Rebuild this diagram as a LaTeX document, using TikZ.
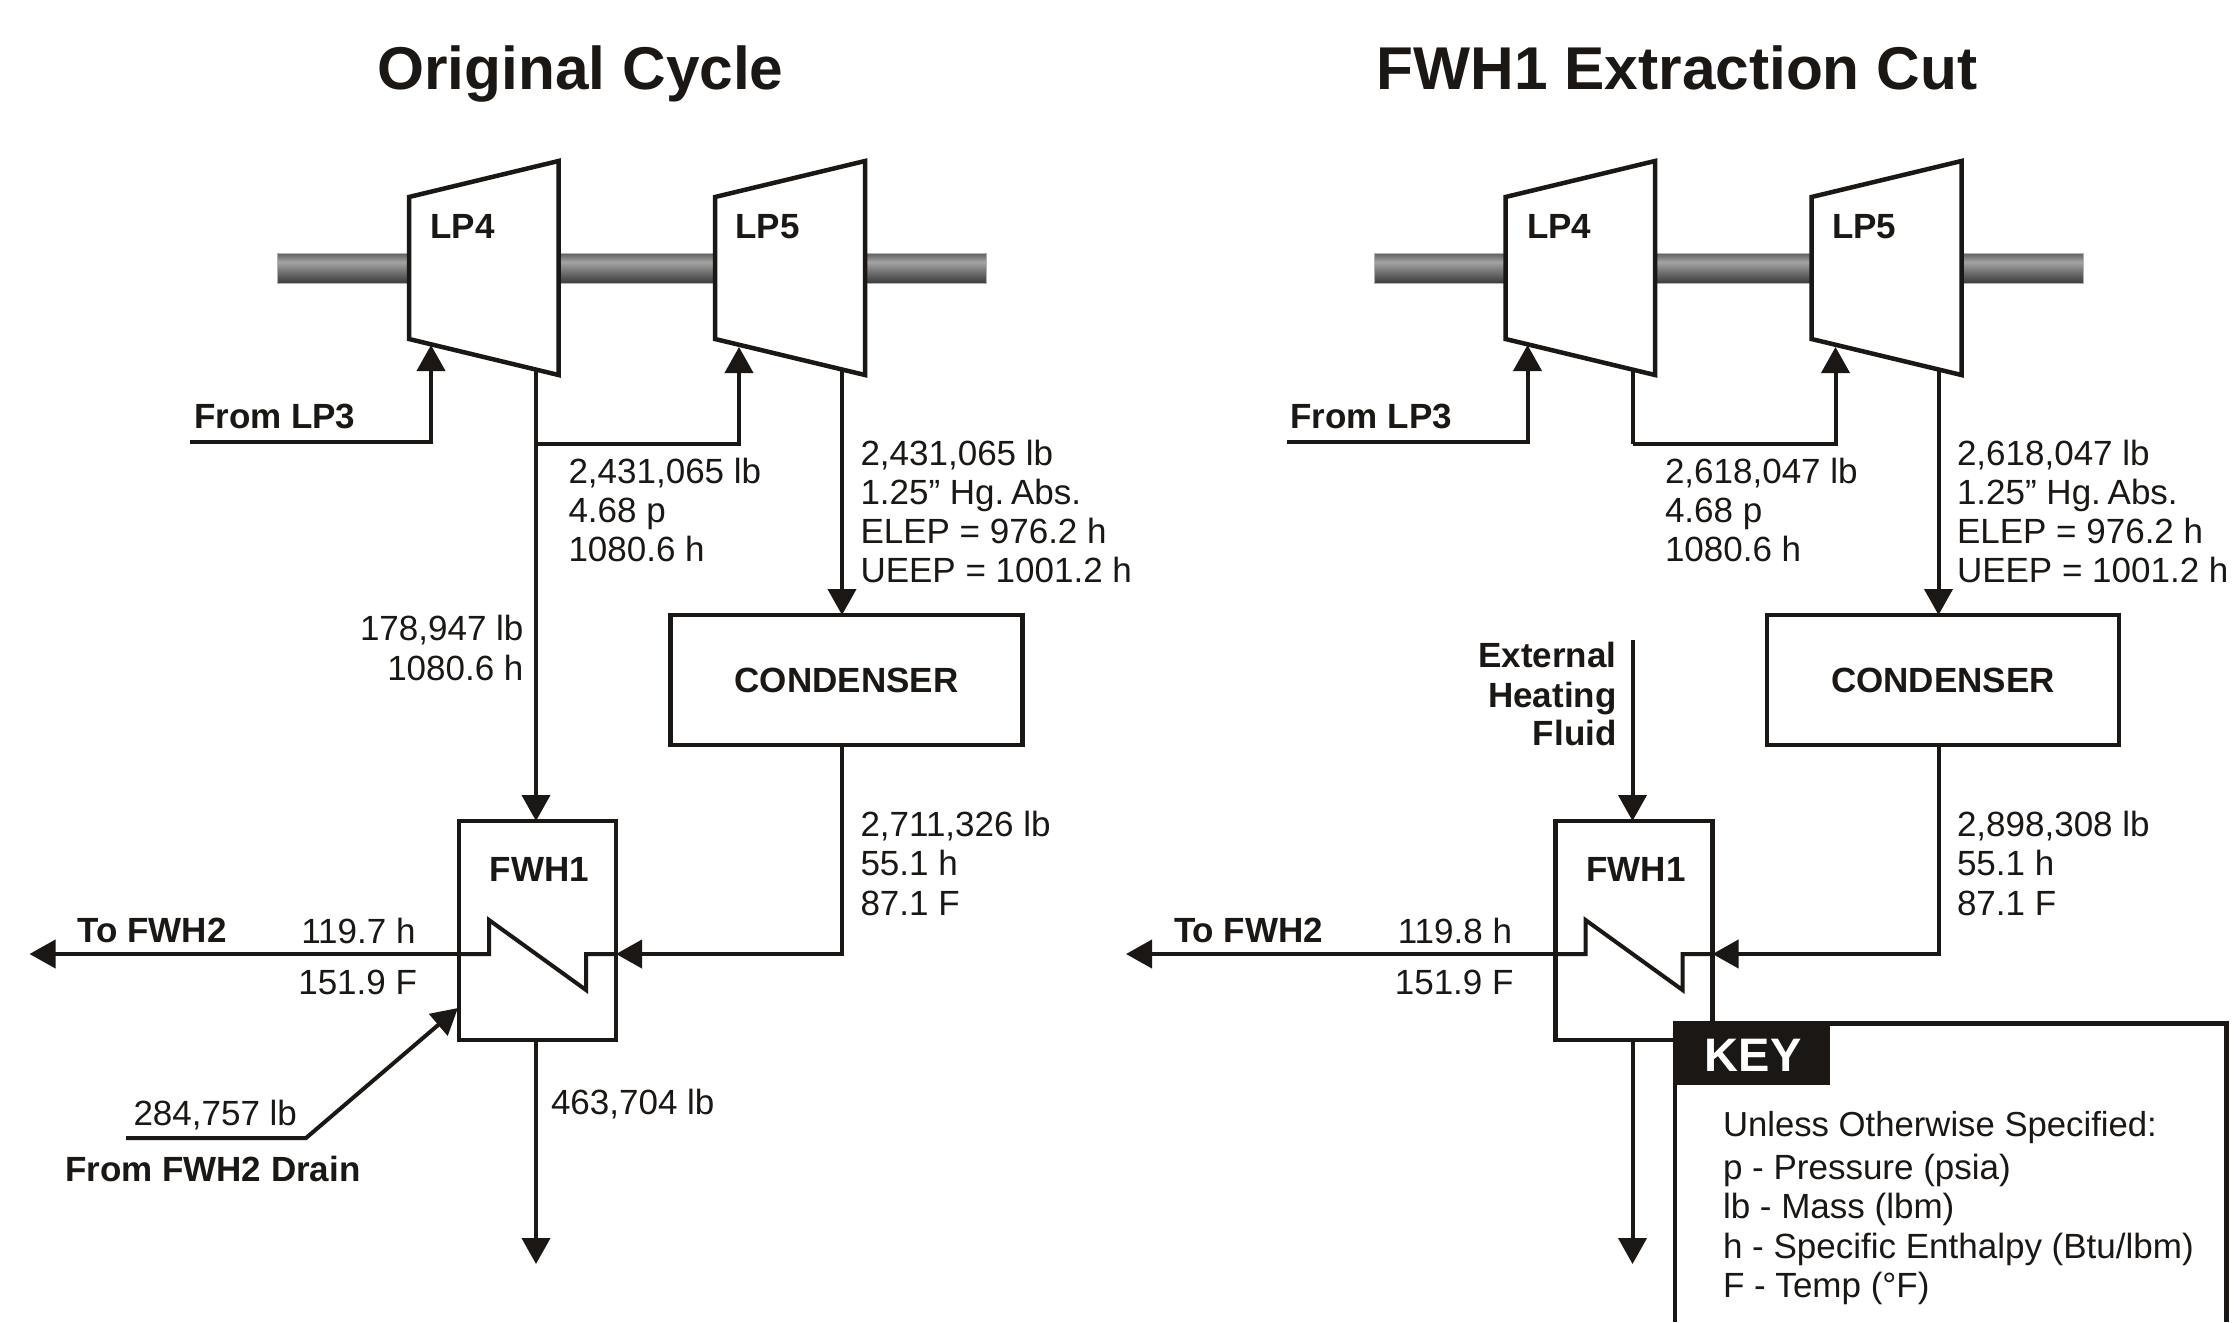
\documentclass[tikz,border=0pt]{standalone}
\usepackage{fontspec}
\setmainfont{Liberation Sans}
\usetikzlibrary{arrows.meta}
\definecolor{ink}{HTML}{1A1714}
\pgfdeclareverticalshading{shaftshade}{100bp}{
  color(0bp)=(black!76);
  color(25bp)=(black!76);
  color(31bp)=(black!70);
  color(60bp)=(black!36);
  color(71bp)=(black!56);
  color(75bp)=(black!60);
  color(100bp)=(black!60)}
\tikzset{
  x=1pt,y=-1pt,
  pipe/.style={draw=ink,line width=4pt,line join=miter},
  flow/.style={pipe,-{Triangle[length=26pt,width=28pt]}},
  shell/.style={draw=ink,line width=4.5pt,fill=white,line join=miter},
  boxnode/.style={shell,rectangle,inner sep=0pt,outer sep=0pt},
  val/.style={inner sep=0pt,outer sep=0pt,anchor=base west,text=ink,font=\fontsize{35}{40}\selectfont},
  valr/.style={val,anchor=base east},
  tag/.style={val,font=\fontsize{35}{40}\selectfont\bfseries},
  tagr/.style={tag,anchor=base east},
  headline/.style={inner sep=0pt,outer sep=0pt,anchor=base,text=ink,font=\fontsize{60.4}{66}\selectfont\bfseries},
}
\newcommand{\cyclegeom}{%
  \shade[shading=shaftshade,draw=black!30,line width=0.6pt] (277.5,253) rectangle (986.5,283);
  \draw[shell] (409,197) -- (558.5,161) -- (558.5,375) -- (409,339) -- cycle;
  \draw[shell] (715,197) -- (865,161) -- (865,375) -- (715,339) -- cycle;
  \node[tag] (lpfour) at (430.5,238) {LP4};
  \node[tag] (lpfive) at (735.5,238) {LP5};
  \coordinate (lp3start) at (190,441.5);
  \coordinate (lp4in) at (431,345);
  \coordinate (lp4out) at (536,368);
  \coordinate (lp5in) at (739,347);
  \coordinate (lp5out) at (842,368);
  \coordinate (junction) at (536,444);
  \draw[flow] (lp3start) -| (lp4in);
  \draw[flow] (junction) -| (lp5in);
  \node[boxnode,minimum width=352pt,minimum height=130pt,font=\fontsize{35}{40}\selectfont\bfseries,text=ink] (cond) at (846.5,680) {CONDENSER};
  \draw[flow] (lp5out) -- (lp5out |- cond.north);
  \node[boxnode,minimum width=157pt,minimum height=219pt] (fwh) at (537.5,930.5) {};
  \node[tag,anchor=base] (fwhname) at (539.5,881) {FWH1};
  \coordinate (tofwh) at (29.5,954);
  \coordinate (zigA) at (489,954);
  \coordinate (zigB) at (489,920);
  \coordinate (zigC) at (586,990);
  \coordinate (zigD) at (586,954);
  \coordinate (condturn) at (842,954);
  \draw[flow] (zigA) -- (tofwh);
  \draw[pipe,line join=miter] (fwh.west |- zigA) -- (zigA) -- (zigB) -- (zigC) -- (zigD) -- (fwh.east |- zigD);
  \draw[flow] (lp5out |- cond.south) -- (condturn) -- (fwh.east |- condturn);
  \coordinate (draindown) at (536,1264);
  \draw[flow] (fwh.south -| draindown) -- (draindown);
  \node[tag] (tofwhname) at (77.5,942) {To FWH2};
  \node[tag] (fromlp) at (194,428) {From LP3};
  \node[valr] (tempval) at (417,994) {151.9 F};
}
\begin{document}
\begin{tikzpicture}
\useasboundingbox (0,0) rectangle (2234,1322);
\fill[white] (0,0) rectangle (2234,1322);

\node[headline] (titleL) at (580.5,89) {Original Cycle};
\node[headline] (titleR) at (1677,89) {FWH1 Extraction Cut};

% ---------- Original cycle ----------
\begin{scope}[name prefix=o]
  \cyclegeom
  \coordinate (dm) at (306,1138);
  \coordinate (ds) at (126,1138);
  \coordinate (dt) at (458,1008);
  \draw[flow] (ds) -- (dm) -- (dt);
  \draw[flow] (lp4out) -- (lp4out |- fwh.north);
  \node[val] (a1) at (568.5,483) {2,431,065 lb};
  \node[val] (a2) at (568.5,522) {4.68 p};
  \node[val] (a3) at (568.5,561) {1080.6 h};
  \node[val] (b1) at (860.5,465) {2,431,065 lb};
  \node[val] (b2) at (860.5,504) {1.25” Hg.\hskip-3pt\ Abs.};
  \node[val] (b3) at (860.5,543) {ELEP = 976.2 h};
  \node[val] (b4) at (860.5,582) {UEEP = 1001.2 h};
  \node[valr] (c1) at (523.5,640) {178,947 lb};
  \node[valr] (c2) at (523.5,680) {1080.6 h};
  \node[val] (d1) at (860.5,836) {2,711,326 lb};
  \node[val] (d2) at (860.5,875) {55.1 h};
  \node[val] (d3) at (860.5,915) {87.1 F};
  \node[valr] (e1) at (415.5,943) {119.7 h};
  \node[val] (f1) at (133.5,1125) {284,757 lb};
  \node[tag] (f2) at (65,1181) {From FWH2 Drain};
  \node[val] (g1) at (551,1114) {463,704 lb};
\end{scope}

% ---------- FWH1 extraction cut ----------
\begin{scope}[xshift=1096.5pt,name prefix=r]
  \cyclegeom
  \draw[pipe] (lp4out) -- (junction);
  \coordinate (extstart) at (536,640);
  \draw[flow] (extstart) -- (extstart |- fwh.north);
  \node[val] (a1) at (568.5,483) {2,618,047 lb};
  \node[val] (a2) at (568.5,522) {4.68 p};
  \node[val] (a3) at (568.5,561) {1080.6 h};
  \node[val] (b1) at (860.5,465) {2,618,047 lb};
  \node[val] (b2) at (860.5,504) {1.25” Hg.\hskip-3pt\ Abs.};
  \node[val] (b3) at (860.5,543) {ELEP = 976.2 h};
  \node[val] (b4) at (860.5,582) {UEEP = 1001.2 h};
  \node[tagr] (h1) at (520,667) {External};
  \node[tagr] (h2) at (520,707) {Heating};
  \node[tagr] (h3) at (520,745) {Fluid};
  \node[val] (d1) at (860.5,836) {2,898,308 lb};
  \node[val] (d2) at (860.5,875) {55.1 h};
  \node[val] (d3) at (860.5,915) {87.1 F};
  \node[valr] (e1) at (415.5,943) {119.8 h};
\end{scope}

% ---------- Key ----------
\fill[white] (1675,1023) rectangle (2226.5,1322);
\draw[ink,line width=4.5pt,line join=miter] (1675,1322) -- (1675,1023.3) -- (2226.5,1023.3) -- (2226.5,1322);
\node[fill=ink,inner sep=0pt,outer sep=0pt,minimum width=157pt,minimum height=64pt,anchor=north west] (keybox) at (1673,1021) {};
\node[anchor=base west,inner sep=0pt,text=white,font=\fontsize{47}{50}\selectfont\bfseries] (keyname) at (1704.5,1071) {KEY};
\node[val,font=\fontsize{34.7}{40}\selectfont] (k1) at (1723,1136) {Unless Otherwise Specified:};
\node[val] (k2) at (1723,1179.5) {p - Pressure (psia)};
\node[val] (k3) at (1723,1218) {lb - Mass (lbm)};
\node[val] (k4) at (1723,1258) {h - Specific Enthalpy (Btu/lbm)};
\node[val] (k5) at (1723,1297) {F - Temp (°F)};
\end{tikzpicture}
\end{document}
